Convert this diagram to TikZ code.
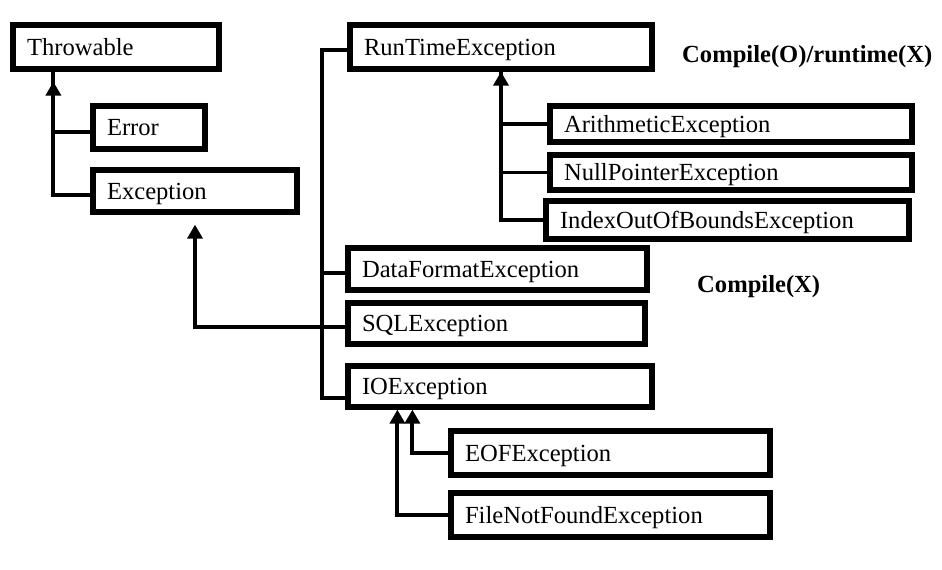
\documentclass[tikz,border=0pt]{standalone}
\usepackage{fontspec}
\setmainfont{Liberation Serif}
\usetikzlibrary{arrows.meta,positioning}
\tikzset{
  cls/.style={rectangle,draw=black,line width=3pt,fill=white,align=left,inner xsep=0.28cm,inner ysep=0pt,
    text height=0.92em,text depth=0pt,font=\fontsize{14}{17}\selectfont},
  branch/.style={line width=2.2pt,black},
  arrow/.style={-{Triangle[length=0.28cm,width=0.3cm]},line width=2.2pt,black},
  note/.style={font=\fontsize{14}{17}\selectfont\bfseries,anchor=west}
}

\begin{document}
\begin{tikzpicture}[x=0.02cm,y=-0.02cm]
  \useasboundingbox (0,0) rectangle (942,569);
  % classes
  \node[cls,minimum width=4.12cm,minimum height=0.88cm,text width=3.56cm] (throwable) at (116,47) {Throwable};
  \node[cls,minimum width=2.24cm,minimum height=0.86cm,text width=1.68cm] (error) at (149,127.5) {Error};
  \node[cls,minimum width=4.08cm,minimum height=0.84cm,text width=3.52cm] (exception) at (195,191) {Exception};
  \node[cls,minimum width=6.04cm,minimum height=0.88cm,text width=5.48cm] (rte) at (501,47) {RunTimeException};
  \node[cls,minimum width=7.24cm,minimum height=0.72cm,text width=6.68cm] (arith) at (731,124) {ArithmeticException};
  \node[cls,minimum width=7.24cm,minimum height=0.70cm,text width=6.68cm] (npe) at (731,172.5) {NullPointerException};
  \node[cls,minimum width=7.26cm,minimum height=0.76cm,text width=6.70cm] (ioobe) at (727.5,220) {IndexOutOfBoundsException};
  \node[cls,minimum width=5.98cm,minimum height=0.84cm,text width=5.42cm] (dfe) at (497.5,269) {DataFormatException};
  \node[cls,minimum width=5.94cm,minimum height=0.82cm,text width=5.38cm] (sqle) at (496.5,323.5) {SQLException};
  \node[cls,minimum width=6.08cm,minimum height=0.82cm,text width=5.52cm] (ioe) at (500,386.5) {IOException};
  \node[cls,minimum width=6.38cm,minimum height=0.88cm,text width=5.82cm] (eofe) at (610.5,453) {EOFException};
  \node[cls,minimum width=6.38cm,minimum height=0.88cm,text width=5.82cm] (fnfe) at (610.5,515) {FileNotFoundException};
  % notes
  \node[note] (checked) at (676,57) {Compile(O)/runtime(X)};
  \node[note] (unchecked) at (691,287) {Compile(X)};
  % Throwable
  \draw[branch] ([yshift=-0.09cm]error.west) -| ([xshift=0.86cm]throwable.south west);
  \draw[arrow,shorten >=0.2cm] ([yshift=-0.08cm]exception.west) -| ([xshift=0.86cm]throwable.south west);
  % Exception
  \draw[branch] ([yshift=-0.06cm]rte.west) -- ++(-0.5cm,0) |- ([yshift=-0.23cm]ioe.west);
  \draw[branch] ([yshift=-0.08cm]dfe.west) -- ++(-0.5cm,0);
  \draw[arrow,shorten >=0.2cm] ([yshift=-0.07cm]sqle.west) -| (exception.south);
  % RunTimeException
  \draw[branch] (arith.west) -| (rte.south);
  \draw[branch] (npe.west) -| (rte.south);
  \draw[arrow] (ioobe.west) -| (rte.south);
  % IOException
  \draw[arrow] (eofe.west) -| ([xshift=1.34cm]ioe.south west);
  \draw[arrow] (fnfe.west) -| ([xshift=1.04cm]ioe.south west);
\end{tikzpicture}
\end{document}
